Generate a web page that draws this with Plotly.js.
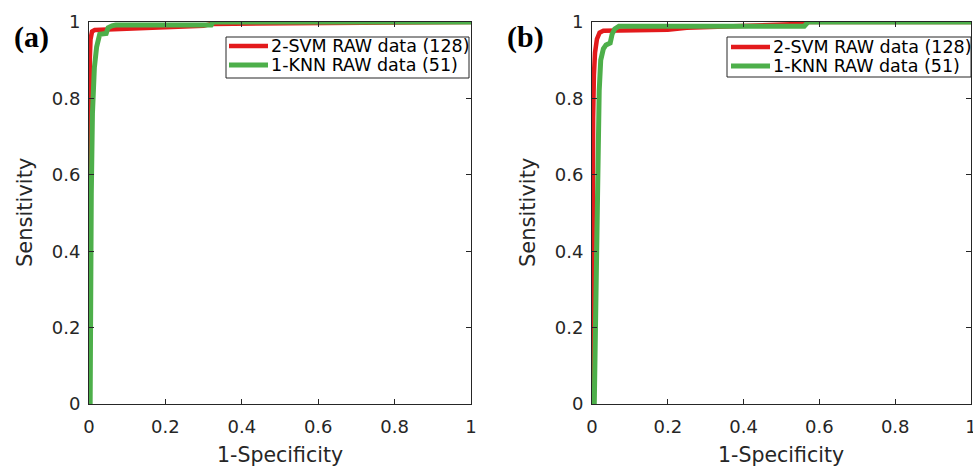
<!DOCTYPE html>
<html>
<head>
<meta charset="utf-8">
<script src="https://cdn.plot.ly/plotly-3.0.1.min.js"></script>
<style>html,body{margin:0;padding:0;background:#fff;}#chart{width:973px;height:467px;}</style>
</head>
<body>
<div id="chart"></div>
<script>
// ---- data ----
var seriesNames = ['2-SVM RAW data (128)', '1-KNN RAW data (51)'];
var panelLabels = ['(a)', '(b)'];
var xTitle = '1-Specificity';
var yTitle = 'Sensitivity';
var tickVals = [0, 0.2, 0.4, 0.6, 0.8, 1];
var tickText = ['0', '0.2', '0.4', '0.6', '0.8', '1'];

// panel (a)
var svmA_fpr = [0, 0, 0.001, 0.002, 0.004, 0.008, 0.015, 0.04, 0.1, 0.2, 0.3, 0.32, 0.6, 1];
var svmA_tpr = [0, 0.5, 0.75, 0.9, 0.955, 0.975, 0.979, 0.98, 0.982, 0.986, 0.99, 0.995, 0.996, 1];
var knnA_fpr = [0.003, 0.004, 0.006, 0.009, 0.014, 0.02, 0.025, 0.028, 0.045, 0.05, 0.06, 0.07, 0.32, 0.325, 1];
var knnA_tpr = [0, 0.3, 0.55, 0.76, 0.88, 0.935, 0.955, 0.968, 0.97, 0.985, 0.99, 0.992, 0.992, 1, 1];

// panel (b)
var svmB_fpr = [0, 0.001, 0.003, 0.005, 0.008, 0.013, 0.02, 0.03, 0.1, 0.2, 0.25, 0.4, 0.55, 0.57, 1];
var svmB_tpr = [0, 0.5, 0.75, 0.86, 0.92, 0.955, 0.972, 0.977, 0.978, 0.98, 0.985, 0.99, 0.995, 1, 1];
var knnB_fpr = [0.006, 0.01, 0.014, 0.019, 0.023, 0.03, 0.037, 0.048, 0.053, 0.06, 0.071, 0.56, 0.57, 1];
var knnB_tpr = [0, 0.3, 0.6, 0.82, 0.9, 0.93, 0.94, 0.945, 0.968, 0.982, 0.989, 0.989, 1, 1];

// ---- styling ----
var W = 973, H = 467;
var RED = '#e31a1c', GREEN = '#4daf4a', AX = '#262626';
var FONT = 'DejaVu Sans, Verdana, sans-serif';
function px(x) { return x / W; }
function py(y) { return 1 - y / H; }

var traces = [
  {x: svmA_fpr, y: svmA_tpr, xaxis: 'x', yaxis: 'y', mode: 'lines', name: seriesNames[0], line: {color: RED, width: 4.5}},
  {x: knnA_fpr, y: knnA_tpr, xaxis: 'x', yaxis: 'y', mode: 'lines', name: seriesNames[1], line: {color: GREEN, width: 5}},
  {x: svmB_fpr, y: svmB_tpr, xaxis: 'x2', yaxis: 'y2', mode: 'lines', name: seriesNames[0], line: {color: RED, width: 4.5}},
  {x: knnB_fpr, y: knnB_tpr, xaxis: 'x2', yaxis: 'y2', mode: 'lines', name: seriesNames[1], line: {color: GREEN, width: 5}}
];

function axis(domain, anchor, standoff) {
  return {
    domain: domain, anchor: anchor, range: [0, 1],
    tickmode: 'array', tickvals: tickVals, ticktext: tickText,
    ticks: 'inside', ticklen: 5, tickwidth: 1, tickcolor: AX,
    showline: true, linecolor: AX, linewidth: 1, mirror: 'ticks',
    showgrid: false, zeroline: false, fixedrange: true,
    ticklabeloverflow: 'allow', ticklabelstandoff: standoff,
    tickfont: {family: FONT, size: 18, color: AX}
  };
}

var yDom = [py(404), py(22)];
var layout = {
  width: W, height: H,
  margin: {l: 0, r: 0, t: 0, b: 0},
  paper_bgcolor: '#fff', plot_bgcolor: '#fff',
  showlegend: false,
  xaxis: axis([px(89), px(471)], 'y', 6),
  yaxis: axis(yDom, 'x', 4),
  xaxis2: axis([px(592), px(971)], 'y2', 6),
  yaxis2: axis(yDom, 'x2', 4),
  shapes: [],
  annotations: []
};

// panel titles & axis titles & legends
var panels = [
  {label: [31, 37], xt: [280, 455], yt: [25, 213],
   leg: {x0: 226, x1: 469, y0: 37, y1: 78, l0: 229, l1: 268, tx: 270, r1: 46, r2: 65}},
  {label: [525, 37], xt: [781, 455], yt: [528, 213],
   leg: {x0: 727, x1: 971, y0: 37, y1: 77, l0: 731, l1: 770, tx: 772, r1: 47, r2: 66}}
];
panels.forEach(function (p, i) {
  layout.annotations.push({xref: 'paper', yref: 'paper', x: px(p.label[0]), y: py(p.label[1]),
    xanchor: 'center', yanchor: 'middle', showarrow: false, text: '<b>' + panelLabels[i] + '</b>',
    font: {family: 'Liberation Serif, Times New Roman, serif', size: 30, color: '#000'}});
  layout.annotations.push({xref: 'paper', yref: 'paper', x: px(p.xt[0]), y: py(p.xt[1]),
    xanchor: 'center', yanchor: 'middle', showarrow: false, text: xTitle,
    font: {family: FONT, size: 20.5, color: AX}});
  layout.annotations.push({xref: 'paper', yref: 'paper', x: px(p.yt[0]), y: py(p.yt[1]),
    xanchor: 'center', yanchor: 'middle', showarrow: false, text: yTitle, textangle: -90,
    font: {family: FONT, size: 21, color: AX}});
  var L = p.leg;
  layout.shapes.push({type: 'rect', xref: 'paper', yref: 'paper', x0: px(L.x0), x1: px(L.x1), y0: py(L.y1), y1: py(L.y0),
    line: {color: AX, width: 1}, fillcolor: '#fff', layer: 'above'});
  layout.shapes.push({type: 'line', xref: 'paper', yref: 'paper', x0: px(L.l0), x1: px(L.l1), y0: py(L.r1), y1: py(L.r1),
    line: {color: RED, width: 4.5}, layer: 'above'});
  layout.shapes.push({type: 'line', xref: 'paper', yref: 'paper', x0: px(L.l0), x1: px(L.l1), y0: py(L.r2), y1: py(L.r2),
    line: {color: GREEN, width: 5}, layer: 'above'});
  layout.annotations.push({xref: 'paper', yref: 'paper', x: px(L.tx), y: py(L.r1), xanchor: 'left', yanchor: 'middle',
    showarrow: false, text: seriesNames[0], font: {family: FONT, size: 17.5, color: '#000'}, borderpad: 0});
  layout.annotations.push({xref: 'paper', yref: 'paper', x: px(L.tx), y: py(L.r2), xanchor: 'left', yanchor: 'middle',
    showarrow: false, text: seriesNames[1], font: {family: FONT, size: 17.5, color: '#000'}, borderpad: 0});
});

Plotly.newPlot('chart', traces, layout, {staticPlot: true, displayModeBar: false});
</script>
</body>
</html>
